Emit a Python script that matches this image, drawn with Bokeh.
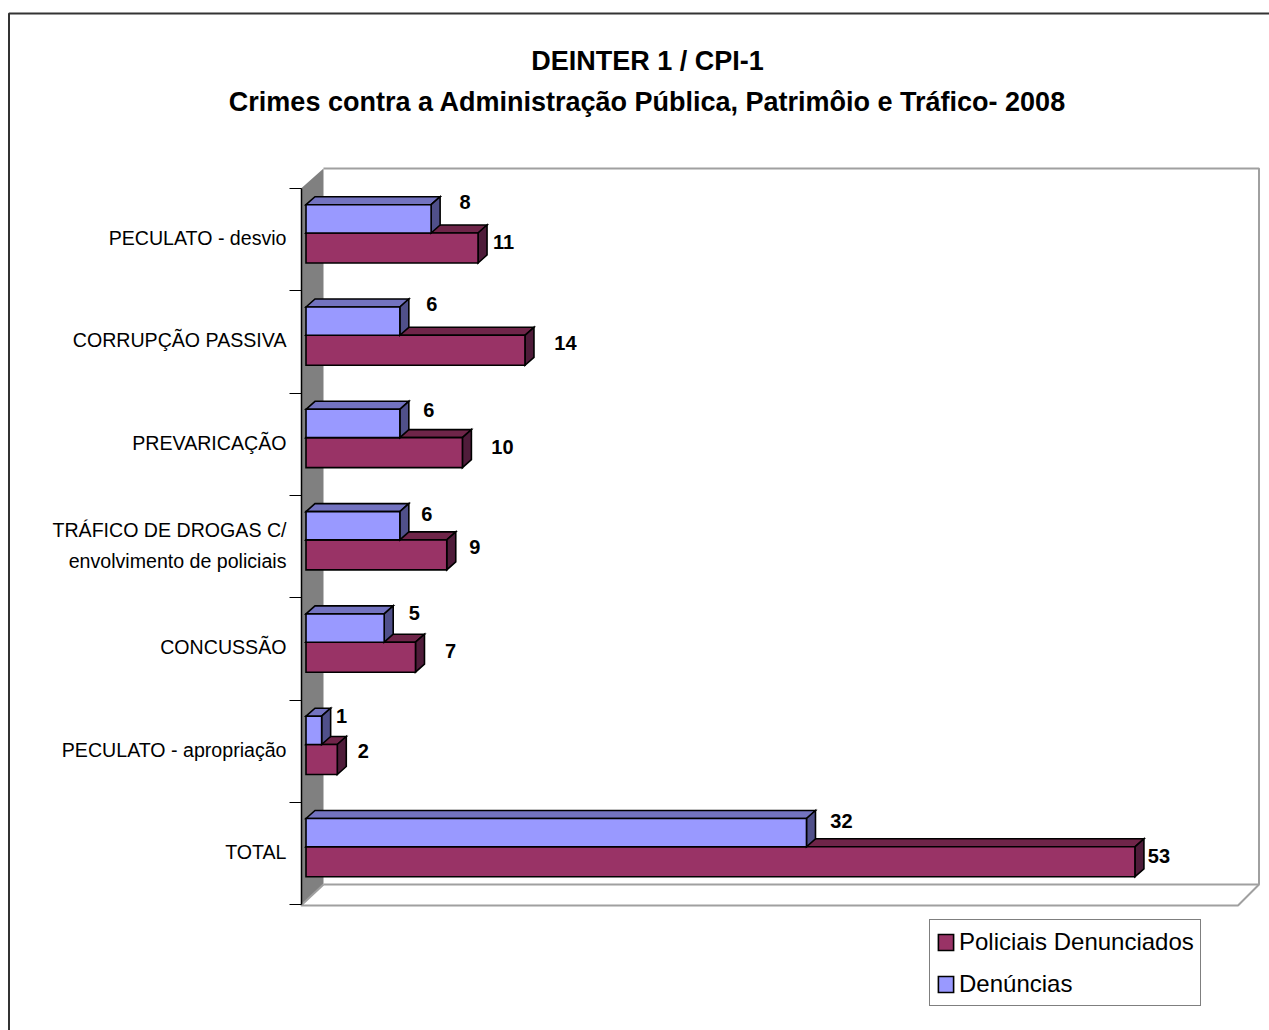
from bokeh.embed import file_html
from bokeh.resources import INLINE
from bokeh.plotting import figure
from bokeh.models import (Range1d, LinearAxis, FixedTicker, Legend, LegendItem)
from bokeh.core.properties import value
import numpy as np

# ---- data ----
categories = ["PECULATO - desvio", "CORRUPÇÃO PASSIVA", "PREVARICAÇÃO",
              "TRÁFICO DE DROGAS C/|envolvimento de policiais", "CONCUSSÃO",
              "PECULATO - apropriação", "TOTAL"]
denuncias = [8, 6, 6, 6, 5, 1, 32]
policiais = [11, 14, 10, 9, 7, 2, 53]
series_names = ["Policiais Denunciados", "Denúncias"]
title_lines = ["DEINTER 1 / CPI-1",
               "Crimes contra a Administração Pública, Patrimôio e Tráfico- 2008"]

# ---- layout ----
W, H = 1269, 1030
PX_PER_VALUE = 15.64
PX_PER_CAT = 102.3
X0_PX, Y0_PX = 305.5, 188.0     # page px of value 0 / first category edge
FONT = "Liberation Sans"

def xd(px):  # page pixel -> value units
    return (px - X0_PX) / PX_PER_VALUE
def yd(px):  # page pixel -> category units
    return (px - Y0_PX) / PX_PER_CAT

DX = 9 / PX_PER_VALUE           # bar depth
DY = 8 / PX_PER_CAT
BAR_TOP, BAR_MID, BAR_BOT = 16.2 / PX_PER_CAT, 44.5 / PX_PER_CAT, 74.5 / PX_PER_CAT

# offsets of value labels from bar end / category centre, in px
blue_off = [(34, -38), (32, -38), (29, -34.6), (27, -33), (30, -36), (20, -35.5), (35, -32.5)]
red_off = [(25.5, 2), (40.5, 1), (40, 2.4), (28, 0), (35, 2), (26, -0.5), (24, 2.5)]

p = figure(width=W, height=H, output_backend="svg", toolbar_location=None,
           x_axis_location=None, y_axis_location=None, min_border=0,
           x_range=Range1d(xd(0), xd(W)), y_range=Range1d(yd(H), yd(0)))
p.grid.visible = False
p.outline_line_color = None
p.background_fill_color = "white"
p.border_fill_color = "white"

# outer chart border
p.line([xd(8.5), xd(8.5), xd(W)], [yd(H), yd(13), yd(13)], line_color="#333333", line_width=2)

# 3D walls
WALL = "#a0a0a0"
p.patch([xd(300.5), xd(323), xd(323), xd(300.5)], [yd(188), yd(168), yd(884), yd(905)],
        fill_color="#808080", line_color=None)
p.line([xd(323), xd(1258.5), xd(1258.5), xd(323)], [yd(168), yd(168), yd(884), yd(884)],
       line_color=WALL, line_width=2)
p.line([xd(323), xd(300.5), xd(1237.5), xd(1258.5)], [yd(884), yd(905), yd(905), yd(884)],
       line_color=WALL, line_width=2)

OUT = dict(line_color="black", line_width=1.6, line_join="miter")

def bar3d(values, top, bot, front, upper, side):
    v = np.array(values, float)
    c = np.arange(len(v), dtype=float)
    xs_top = [[0, DX, e + DX, e] for e in v]
    ys_top = [[k + top, k + top - DY, k + top - DY, k + top] for k in c]
    xs_side = [[e, e + DX, e + DX, e] for e in v]
    ys_side = [[k + top, k + top - DY, k + bot - DY, k + bot] for k in c]
    p.patches(xs_top, ys_top, fill_color=upper, **OUT)
    p.patches(xs_side, ys_side, fill_color=side, **OUT)
    return p.quad(left=0, right=v, top=c + top, bottom=c + bot, fill_color=front, **OUT)

red = bar3d(policiais, BAR_MID, BAR_BOT, "#993366", "#6f2549", "#4f1c3a")
blue = bar3d(denuncias, BAR_TOP, BAR_MID, "#9999ff", "#7373c0", "#50508a")

# value labels
for vals, off in ((denuncias, blue_off), (policiais, red_off)):
    p.text([v + o[0] / PX_PER_VALUE for v, o in zip(vals, off)],
           [i + 0.5 + o[1] / PX_PER_CAT for i, o in enumerate(off)],
           text=[str(v) for v in vals], text_font=value(FONT), text_font_style="bold",
           text_font_size="20px", text_color="black", text_align="center", text_baseline="middle")

# titles
p.text([xd(647)] * 2, [yd(60.5), yd(101.5)], text=title_lines, text_font=value(FONT),
       text_font_style="bold", text_font_size="27px", text_color="black",
       text_align="center", text_baseline="middle")

# category tick positions: a two-line label gets one tick per line
LABEL_SHIFT = -1.5 / PX_PER_CAT
label_ticks = {}
for i, c in enumerate(categories):
    if "|" in c:
        a, b = c.split("|")
        label_ticks[i + 0.5 - 17 / PX_PER_CAT] = a
        label_ticks[i + 0.5 + 14 / PX_PER_CAT] = b
    else:
        label_ticks[i + 0.5 + LABEL_SHIFT] = c

# axes: one for the tick marks at category edges, one for the centred labels
tick_axis = LinearAxis(ticker=FixedTicker(ticks=list(range(len(categories) + 1))),
                       fixed_location=xd(300.5), bounds=(0, len(categories)),
                       major_label_text_font_size="0px",
                       major_label_text_color=None, axis_line_color="black", axis_line_width=1.5,
                       major_tick_line_color="black", major_tick_line_width=1.2,
                       major_tick_out=12, major_tick_in=0, minor_tick_line_color=None)
label_axis = LinearAxis(ticker=FixedTicker(ticks=list(label_ticks)),
                        fixed_location=xd(301), axis_line_color=None,
                        major_tick_line_color=None, minor_tick_line_color=None,
                        major_tick_out=0, major_tick_in=0, major_label_standoff=15,
                        major_label_text_font=FONT, major_label_text_font_size="19.6px",
                        major_label_text_color="black",
                        major_label_overrides=label_ticks)
p.add_layout(tick_axis, "left")
p.add_layout(label_axis, "left")

legend = Legend(items=[LegendItem(label=series_names[0], renderers=[red]),
                       LegendItem(label=series_names[1], renderers=[blue])],
                location=(929, 24), orientation="vertical", margin=0, padding=6, spacing=11,
                glyph_width=19, glyph_height=20, label_standoff=4, label_height=31,
                label_text_font=FONT, label_text_font_size="24px", label_text_color="black",
                border_line_color="black", border_line_width=1, background_fill_color="white",
                background_fill_alpha=1)
p.add_layout(legend, "center")

open("out.html", "w").write(file_html(p, INLINE))
